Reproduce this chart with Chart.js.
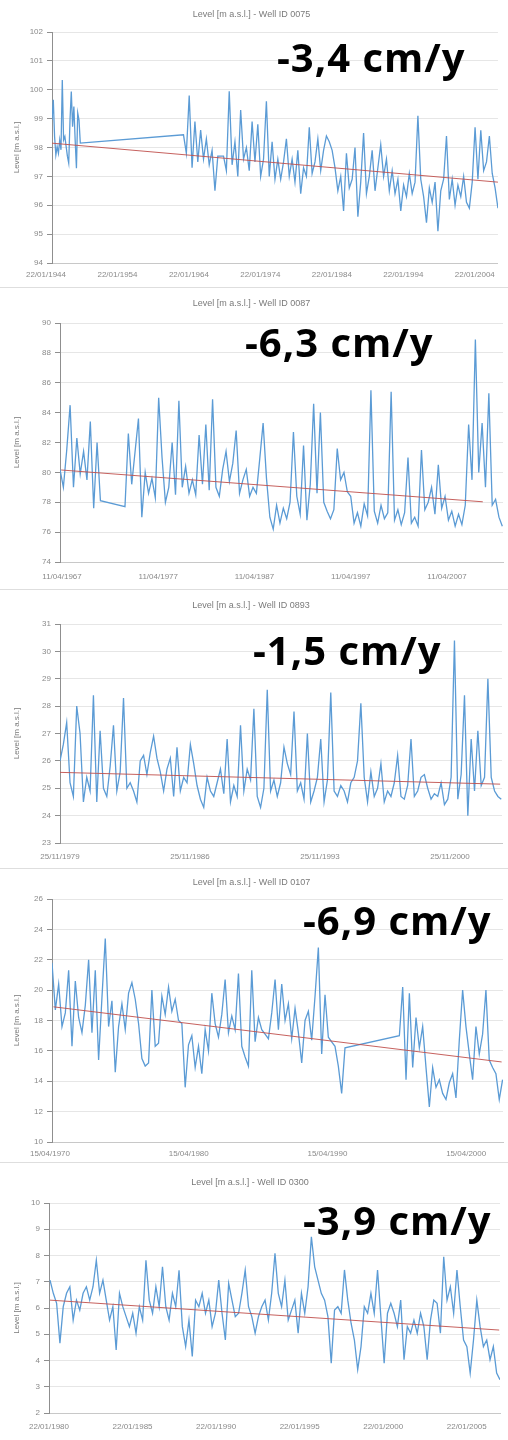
<!DOCTYPE html>
<html><head><meta charset="utf-8">
<script src="https://cdn.jsdelivr.net/npm/chart.js@4.4.1/dist/chart.umd.min.js"></script>
<style>
html,body{margin:0;padding:0;background:#fff;}
body{width:508px;height:1440px;position:relative;overflow:hidden;}
.panel{position:absolute;left:0;width:508px;}
.panel canvas{display:block;}
.rate{position:absolute;font-family:"Open Sans",sans-serif;font-weight:700;font-size:40px;line-height:1;color:#000;white-space:nowrap;letter-spacing:1px;}
.sep{position:absolute;left:0;width:508px;height:1px;background:#dedede;}
</style></head><body>
<script>
// ---------- DATA ----------
const yTitle = "Level [m a.s.l.]";

// Panel 1
const p1Title = "Level [m a.s.l.] - Well ID 0075";
const p1Rate = "-3,4 cm/y";
const p1aStart = 1944.0, p1aStep = 0.18;
const p1aLevels = [98.95, 99.65, 98.38, 97.74, 98.03, 97.80, 98.26, 97.92, 100.34, 98.26, 98.38, 98.03, 97.69, 97.46, 98.95, 99.94, 98.72, 99.42, 98.26, 97.28, 99.19, 98.95, 98.15];
const p1bStart = 1962.4, p1bStep = 0.4;
const p1bLevels = [98.44, 97.8, 99.8, 97.3, 98.9, 97.5, 98.6, 97.6, 98.3, 97.4,
 97.9, 96.5, 97.7, 97.7, 97.7, 97.2, 99.95, 97.4, 98.2, 97.0,
 99.3, 97.6, 98.0, 97.2, 98.9, 97.5, 98.8, 97.0, 97.6, 99.6,
 97.0, 98.2, 96.9, 97.6, 96.9, 97.5, 98.3, 97.0, 97.6, 96.8,
 97.9, 96.4, 97.3, 97.0, 98.7, 97.1, 97.5, 98.3, 97.2, 97.9,
 98.4, 98.2, 97.9, 97.3, 96.5, 97.0, 95.8, 97.8, 96.6, 96.9,
 98.0, 95.6, 96.8, 98.5, 96.4, 97.0, 97.9, 96.5, 97.3, 98.1,
 97.0, 97.6, 96.5, 97.2, 96.4, 96.9, 95.8, 96.7, 96.3, 97.1,
 96.4, 96.8, 99.1, 96.9, 96.3, 95.4, 96.6, 96.1, 96.8, 95.1,
 96.5, 96.9, 98.4, 96.2, 96.9, 96.0, 96.7, 96.3, 97.0, 96.1,
 95.9, 96.8, 98.7, 96.9, 98.6, 97.2, 97.5, 98.4, 97.1, 96.6,
 95.9];
const p1TrendYears = [1944.0, 2006.4];
const p1TrendLevels = [98.15, 96.8];
const p1XRange = [1944.0, 2006.4];
const p1TickYears = [1944, 1954, 1964, 1974, 1984, 1994, 2004];
const p1TickLabels = ["22/01/1944", "22/01/1954", "22/01/1964", "22/01/1974", "22/01/1984", "22/01/1994", "22/01/2004"];
const p1YTicks = [94, 95, 96, 97, 98, 99, 100, 101, 102];

// Panel 2
const p2Title = "Level [m a.s.l.] - Well ID 0087";
const p2Rate = "-6,3 cm/y";
const p2aStart = 1967.28, p2aStep = 0.35;
const p2aLevels = [80.2, 79.0, 81.5, 84.5, 79.0, 82.3, 79.9, 81.4, 79.5, 83.4, 77.6, 82.0, 78.1];
const p2bStart = 1974.03, p2bStep = 0.35;
const p2bLevels = [77.7, 82.6, 79.2, 81.4, 83.6, 77.0, 80.0, 78.6, 79.6, 78.3,
 85.0, 81.0, 78.0, 79.0, 82.0, 78.5, 84.8, 79.0, 80.4, 78.6,
 79.5, 78.5, 82.5, 79.2, 83.2, 78.8, 84.9, 79.0, 78.4, 80.2,
 81.4, 79.4, 80.6, 82.8, 78.6, 79.5, 80.2, 78.4, 79.0, 78.6,
 80.9, 83.3, 79.6, 77.0, 76.2, 77.8, 76.6, 77.6, 76.9, 78.0,
 82.7, 78.4, 77.2, 81.8, 76.8, 79.2, 84.6, 78.6, 84.0, 78.0,
 77.4, 76.9, 77.5, 81.6, 79.5, 80.0, 78.7, 78.4, 76.6, 77.3,
 76.4, 77.9, 77.1, 85.5, 77.4, 76.6, 77.8, 76.9, 77.3, 85.4,
 76.8, 77.5, 76.5, 77.3, 81.0, 76.6, 77.0, 76.4, 81.5, 77.5,
 78.0, 79.0, 77.2, 80.5, 77.6, 78.4, 76.8, 77.4, 76.4, 77.2,
 76.5, 77.8, 83.2, 79.5, 88.9, 80.0, 83.3, 79.0, 85.3, 77.8,
 78.2, 77.0, 76.4];
const p2TrendYears = [1967.4, 2011.2];
const p2TrendLevels = [80.16, 78.03];
const p2XRange = [1967.28, 2013.3];
const p2TickYears = [1967.28, 1977.28, 1987.28, 1997.28, 2007.28];
const p2TickLabels = ["11/04/1967", "11/04/1977", "11/04/1987", "11/04/1997", "11/04/2007"];
const p2YTicks = [74, 76, 78, 80, 82, 84, 86, 88, 90];

// Panel 3
const p3Title = "Level [m a.s.l.] - Well ID 0893";
const p3Rate = "-1,5 cm/y";
const p3Start = 1979.9, p3Step = 0.18;
const p3Levels = [26.0, 26.6, 27.4, 25.2, 24.7, 28.0, 27.0, 24.5, 25.4, 24.9,
 28.4, 24.5, 27.1, 25.0, 24.7, 25.8, 27.3, 24.9, 25.6, 28.3,
 25.0, 25.2, 24.9, 24.5, 26.0, 26.2, 25.5, 26.3, 26.9, 26.1,
 25.6, 24.9, 25.7, 26.1, 24.7, 26.5, 24.9, 25.4, 25.2, 26.6,
 25.9, 25.1, 24.6, 24.3, 25.4, 24.9, 24.7, 25.2, 25.7, 24.8,
 26.8, 24.5, 25.1, 24.7, 27.3, 24.9, 25.7, 25.3, 27.9, 24.7,
 24.3, 25.0, 28.6, 24.9, 25.3, 24.7, 25.2, 26.5, 25.9, 25.5,
 27.8, 24.9, 25.2, 24.6, 27.0, 24.5, 24.9, 25.4, 26.8, 24.5,
 25.3, 28.5, 24.9, 24.7, 25.1, 24.9, 24.5, 25.2, 25.4, 26.0,
 28.1, 25.4, 24.5, 25.6, 24.7, 25.0, 25.9, 24.5, 24.9, 24.7,
 25.2, 26.2, 24.7, 24.6, 25.1, 26.8, 24.7, 24.9, 25.4, 25.5,
 25.0, 24.6, 24.8, 24.7, 25.2, 24.4, 24.6, 25.4, 30.4, 24.6,
 25.5, 28.4, 24.0, 26.8, 24.9, 27.1, 25.1, 25.4, 29.0, 25.4,
 24.9, 24.7, 24.6];
const p3TrendYears = [1979.9, 2003.6];
const p3TrendLevels = [25.58, 25.15];
const p3XRange = [1979.9, 2003.7];
const p3TickYears = [1979.9, 1986.9, 1993.9, 2000.9];
const p3TickLabels = ["25/11/1979", "25/11/1986", "25/11/1993", "25/11/2000"];
const p3YTicks = [23, 24, 25, 26, 27, 28, 29, 30, 31];

// Panel 4
const p4Title = "Level [m a.s.l.] - Well ID 0107";
const p4Rate = "-6,9 cm/y";
const p4aStart = 1970.29, p4aStep = 0.24;
const p4aLevels = [21.8, 18.7, 20.4, 17.6, 18.5, 21.3, 16.3, 20.6, 18.2, 17.2,
 19.0, 22.0, 17.2, 21.3, 15.4, 19.5, 23.4, 17.6, 19.3, 14.6,
 17.6, 19.1, 17.4, 19.8, 20.5, 19.4, 17.8, 15.5, 15.0, 15.2,
 20.0, 16.3, 16.5, 19.6, 18.4, 20.2, 18.6, 19.4, 18.0, 17.8,
 13.6, 16.4, 17.0, 14.9, 16.3, 14.5, 17.4, 16.0, 19.8, 17.8,
 16.9, 18.4, 20.7, 17.2, 18.3, 17.4, 21.1, 16.3, 15.6, 15.0,
 21.3, 16.6, 18.2, 17.4, 17.1, 16.8, 18.5, 20.7, 17.4, 20.4,
 18.0, 19.1, 16.8, 18.8, 17.2, 15.2, 18.0, 18.6, 16.7, 19.6,
 22.8, 15.8, 19.7, 16.9, 16.6, 16.3, 15.0, 13.2, 16.2];
const p4bStart = 1995.33, p4bStep = 0.24;
const p4bLevels = [17.0, 20.2, 14.1, 19.8, 14.9, 18.2, 16.2, 17.6, 14.9, 12.3,
 14.9, 13.6, 14.1, 13.2, 12.8, 13.9, 14.5, 12.9, 16.7, 20.0,
 17.6, 15.8, 14.1, 17.6, 15.8, 17.1, 20.0, 15.4, 14.9, 14.5,
 12.8, 14.1];
const p4TrendYears = [1970.4, 2002.7];
const p4TrendLevels = [18.9, 15.27];
const p4XRange = [1970.29, 2002.8];
const p4TickYears = [1970.29, 1980.29, 1990.29, 2000.29];
const p4TickLabels = ["15/04/1970", "15/04/1980", "15/04/1990", "15/04/2000"];
const p4YTicks = [10, 12, 14, 16, 18, 20, 22, 24, 26];

// Panel 5
const p5Title = "Level [m a.s.l.] - Well ID 0300";
const p5Rate = "-3,9 cm/y";
const p5Start = 1980.12, p5Step = 0.198;
const p5Levels = [7.06, 6.56, 6.18, 4.66, 6.05, 6.56, 6.81, 5.54, 6.3, 5.92,
 6.56, 6.81, 6.3, 6.81, 7.82, 6.56, 7.06, 6.3, 5.54, 6.05,
 4.4, 6.56, 6.05, 5.67, 5.29, 5.8, 5.04, 6.05, 5.54, 7.82,
 6.3, 5.8, 6.81, 6.05, 7.57, 6.05, 5.54, 6.56, 6.05, 7.44,
 5.29, 4.53, 5.54, 4.15, 6.3, 6.05, 6.56, 5.8, 6.3, 5.29,
 5.8, 7.06, 5.8, 4.78, 6.94, 6.3, 5.67, 5.8, 6.56, 7.44,
 6.05, 5.67, 5.04, 5.67, 6.05, 6.3, 5.54, 6.56, 8.08, 6.56,
 6.05, 7.06, 5.54, 5.92, 6.3, 5.04, 6.56, 5.8, 6.81, 8.71,
 7.57, 7.06, 6.56, 6.3, 5.67, 3.9, 5.92, 6.05, 5.8, 7.45,
 6.3, 5.42, 4.78, 3.65, 4.53, 6.05, 5.8, 6.56, 5.8, 7.45,
 5.67, 3.9, 5.8, 6.18, 5.8, 5.29, 6.3, 4.03, 5.29, 5.04,
 5.54, 5.04, 5.8, 5.29, 4.03, 5.54, 6.3, 6.18, 5.04, 7.95,
 6.3, 6.81, 5.8, 7.45, 6.05, 4.78, 4.53, 3.52, 4.78, 6.3,
 5.29, 4.53, 4.78, 4.03, 4.53, 3.52, 3.27];
const p5TrendYears = [1980.12, 2007.0];
const p5TrendLevels = [6.3, 5.16];
const p5XRange = [1980.06, 2007.05];
const p5TickYears = [1980.06, 1985.06, 1990.06, 1995.06, 2000.06, 2005.06];
const p5TickLabels = ["22/01/1980", "22/01/1985", "22/01/1990", "22/01/1995", "22/01/2000", "22/01/2005"];
const p5YTicks = [2, 3, 4, 5, 6, 7, 8, 9, 10];

// ---------- BUILD ----------
function series(parts) {
  const pts = [];
  parts.forEach(([start, step, vals]) => vals.forEach((v, i) => pts.push({x: +(start + i * step).toFixed(3), y: v})));
  return pts;
}
function pairs(xs, ys) { return xs.map((x, i) => ({x: x, y: ys[i]})); }

const panels = [
  {title: p1Title, rate: p1Rate, series: series([[p1aStart, p1aStep, p1aLevels], [p1bStart, p1bStep, p1bLevels]]),
   trend: pairs(p1TrendYears, p1TrendLevels), xr: p1XRange, tickYears: p1TickYears, tickLabels: p1TickLabels, yTicks: p1YTicks,
   top: 0, h: 286, left: 52, plotTop: 32, right: 503, plotBottom: 263, titleY: 15, xpad: 7, labelOffset: -6, rateX: 277, rateBase: 72},
  {title: p2Title, rate: p2Rate, series: series([[p2aStart, p2aStep, p2aLevels], [p2bStart, p2bStep, p2bLevels]]),
   trend: pairs(p2TrendYears, p2TrendLevels), xr: p2XRange, tickYears: p2TickYears, tickLabels: p2TickLabels, yTicks: p2YTicks,
   top: 288, h: 300, left: 60, plotTop: 35, right: 503, plotBottom: 274, titleY: 16, xpad: 10, labelOffset: 2, rateX: 245, rateBase: 357},
  {title: p3Title, rate: p3Rate, series: series([[p3Start, p3Step, p3Levels]]),
   trend: pairs(p3TrendYears, p3TrendLevels), xr: p3XRange, tickYears: p3TickYears, tickLabels: p3TickLabels, yTicks: p3YTicks,
   top: 590, h: 277, left: 60, plotTop: 34, right: 502, plotBottom: 253, titleY: 16, xpad: 9, labelOffset: 0, rateX: 253, rateBase: 665},
  {title: p4Title, rate: p4Rate, series: series([[p4aStart, p4aStep, p4aLevels], [p4bStart, p4bStep, p4bLevels]]),
   trend: pairs(p4TrendYears, p4TrendLevels), xr: p4XRange, tickYears: p4TickYears, tickLabels: p4TickLabels, yTicks: p4YTicks,
   top: 869, h: 292, left: 52, plotTop: 30, right: 503, plotBottom: 273, titleY: 14, xpad: 7, labelOffset: -2, rateX: 303, rateBase: 935},
  {title: p5Title, rate: p5Rate, series: series([[p5Start, p5Step, p5Levels]]),
   trend: pairs(p5TrendYears, p5TrendLevels), xr: p5XRange, tickYears: p5TickYears, tickLabels: p5TickLabels, yTicks: p5YTicks,
   top: 1163, h: 277, left: 49, plotTop: 40, right: 500, plotBottom: 250, titleY: 20, xpad: 9, labelOffset: 0, rateX: 303, rateBase: 1235}
];

const tickFont = {family: "'Liberation Sans', sans-serif", size: 8};

panels.forEach(p => {
  const div = document.createElement('div');
  div.className = 'panel';
  div.style.top = p.top + 'px';
  div.style.height = p.h + 'px';
  const cv = document.createElement('canvas');
  cv.width = 508; cv.height = p.h;
  div.appendChild(cv);
  document.body.appendChild(div);

  const titleSize = 9, lh = titleSize * 1.2;
  const padTop = p.titleY - lh / 2;

  new Chart(cv, {
    type: 'line',
    data: {datasets: [
      {data: p.trend, borderColor: 'rgba(192,80,77,0.9)', borderWidth: 1, pointRadius: 0, tension: 0, order: 0},
      {data: p.series, borderColor: '#5b9bd5', borderWidth: 1.3, pointRadius: 0, tension: 0, order: 1}
    ]},
    options: {
      responsive: false, animation: false, events: [],
      layout: {autoPadding: false, padding: {left: 0, right: 508 - p.right, top: 0, bottom: 0}},
      plugins: {
        legend: {display: false}, tooltip: {enabled: false},
        title: {display: true, text: p.title, color: '#7a7a7a',
                font: {family: "'Liberation Sans', sans-serif", size: titleSize, weight: 'normal'},
                padding: {top: padTop, bottom: p.plotTop - padTop - lh}}
      },
      scales: {
        x: {type: 'linear', min: p.xr[0], max: p.xr[1],
            afterBuildTicks: s => { s.ticks = p.tickYears.map(v => ({value: v})); },
            afterFit: s => { s.height = p.h - p.plotBottom; },
            grid: {drawOnChartArea: false, drawTicks: false},
            border: {color: '#c8c8c8'},
            ticks: {autoSkip: false, maxRotation: 0, minRotation: 0, padding: p.xpad, color: '#8a8a8a', font: tickFont,
                    labelOffset: p.labelOffset, callback: (v, i) => p.tickLabels[i]}},
        y: {min: p.yTicks[0], max: p.yTicks[p.yTicks.length - 1],
            afterBuildTicks: s => { s.ticks = p.yTicks.map(v => ({value: v})); },
            afterFit: s => { s.width = p.left; },
            grid: {color: '#e6e6e6', tickLength: 5, tickColor: '#8f8f8f'},
            border: {color: '#8f8f8f'},
            ticks: {padding: 4, color: '#8a8a8a', font: tickFont, callback: v => String(v)},
            title: {display: true, text: yTitle, color: '#7a7a7a', font: {family: "'Liberation Sans', sans-serif", size: 8},
                    padding: {top: 12, bottom: 0}}}
      }
    }
  });

  const r = document.createElement('div');
  r.className = 'rate';
  r.textContent = p.rate;
  r.style.left = p.rateX + 'px';
  r.style.top = (p.rateBase - 35.5) + 'px';
  document.body.appendChild(r);
});

[287, 589, 868, 1162].forEach(y => {
  const s = document.createElement('div');
  s.className = 'sep';
  s.style.top = y + 'px';
  document.body.appendChild(s);
});
</script>
</body></html>
